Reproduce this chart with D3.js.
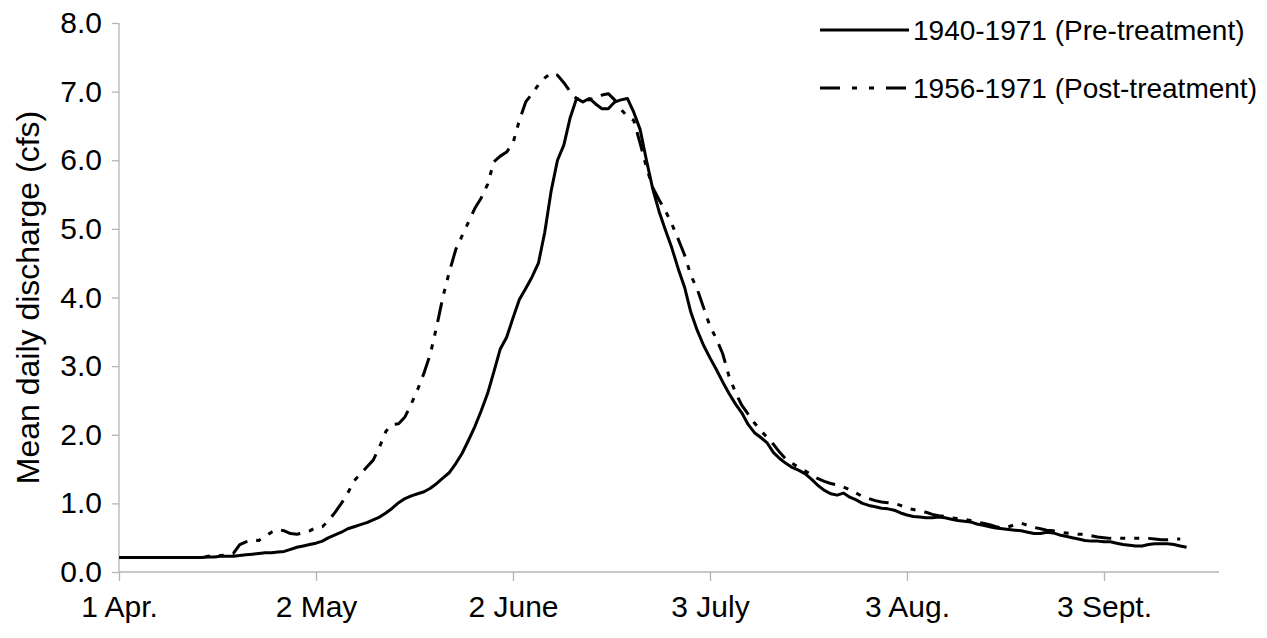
<!DOCTYPE html>
<html><head><meta charset="utf-8">
<script src="https://cdn.jsdelivr.net/npm/d3@7"></script>
<style>
html,body{margin:0;padding:0;background:#fff;}
svg{display:block;font-family:"Liberation Sans",Arial,sans-serif;}
</style></head>
<body>
<svg id="chart" width="1267" height="638"></svg>
<script>
// Day offsets from 1 April
const tickDays = [0, 31, 62, 93, 124, 155];
const tickLabels = ["1 Apr.", "2 May", "2 June", "3 July", "3 Aug.", "3 Sept."];
const yTicks = [0, 1, 2, 3, 4, 5, 6, 7, 8];
const seriesNames = ["1940-1971 (Pre-treatment)", "1956-1971 (Post-treatment)"];

// Mean daily discharge (cfs), one value per day starting 1 April
const preTreatment = [
0.21,0.21,0.21,0.21,0.21,0.21,0.21,0.21,0.21,0.21,
0.21,0.21,0.21,0.21,0.22,0.22,0.23,0.23,0.23,0.24,
0.25,0.26,0.27,0.28,0.28,0.29,0.30,0.33,0.36,0.38,
0.40,0.42,0.45,0.50,0.54,0.58,0.63,0.66,0.69,0.72,
0.76,0.80,0.86,0.93,1.01,1.07,1.11,1.14,1.17,1.22,
1.29,1.37,1.45,1.58,1.73,1.92,2.12,2.35,2.60,2.92,
3.25,3.42,3.70,3.97,4.13,4.30,4.50,4.95,5.55,6.00,
6.22,6.62,6.90,6.85,6.90,6.82,6.75,6.75,6.85,6.88,
6.90,6.70,6.45,6.00,5.58,5.25,4.98,4.72,4.42,4.15,
3.78,3.52,3.30,3.12,2.95,2.77,2.60,2.45,2.32,2.15,
2.03,1.96,1.88,1.74,1.65,1.58,1.52,1.48,1.43,1.35,
1.26,1.19,1.14,1.12,1.15,1.09,1.05,1.00,0.97,0.95,
0.93,0.92,0.90,0.86,0.83,0.81,0.80,0.79,0.79,0.80,
0.79,0.77,0.75,0.74,0.73,0.70,0.68,0.66,0.64,0.63,
0.62,0.61,0.60,0.58,0.56,0.56,0.58,0.57,0.54,0.52,
0.50,0.48,0.46,0.45,0.45,0.44,0.44,0.42,0.40,0.39,
0.38,0.38,0.40,0.41,0.41,0.41,0.40,0.38,0.36
];
const postTreatment = [
0.21,0.21,0.21,0.21,0.21,0.21,0.21,0.21,0.21,0.21,
0.21,0.21,0.21,0.21,0.23,0.24,0.24,0.25,0.27,0.40,
0.44,0.47,0.46,0.52,0.58,0.62,0.60,0.56,0.55,0.57,
0.60,0.65,0.66,0.75,0.87,1.00,1.15,1.33,1.43,1.53,
1.63,1.82,2.05,2.15,2.16,2.26,2.45,2.66,2.90,3.18,
3.58,4.02,4.38,4.70,4.90,5.10,5.30,5.45,5.65,5.98,
6.06,6.12,6.25,6.58,6.85,6.97,7.10,7.20,7.27,7.24,
7.13,7.00,6.90,6.87,6.88,6.91,6.95,6.97,6.88,6.74,
6.64,6.58,6.25,5.90,5.60,5.42,5.26,5.07,4.85,4.62,
4.32,4.12,3.85,3.58,3.40,3.18,2.85,2.62,2.43,2.30,
2.17,2.06,1.96,1.86,1.74,1.64,1.58,1.52,1.47,1.42,
1.36,1.32,1.29,1.27,1.24,1.20,1.15,1.10,1.07,1.04,
1.02,1.01,1.00,0.97,0.93,0.91,0.89,0.87,0.84,0.82,
0.81,0.79,0.78,0.77,0.75,0.73,0.71,0.69,0.66,0.64,
0.66,0.69,0.71,0.68,0.65,0.63,0.61,0.60,0.58,0.57,
0.56,0.55,0.55,0.53,0.51,0.50,0.49,0.49,0.49,0.49,
0.49,0.49,0.49,0.48,0.47,0.47,0.48,0.48
];

const svg = d3.select("#chart");
const axisColor = "#b4b4b4";
const fontFam = '"Liberation Sans",Arial,sans-serif';
const x = d3.scaleLinear().domain([0, 173.1]).range([119, 1219]);
const y = d3.scaleLinear().domain([0, 8]).range([572, 23]);

// X axis
const xAxis = svg.append("g").attr("transform", `translate(0,${y(0)})`)
  .call(d3.axisBottom(x).tickValues(tickDays).tickSize(9).tickPadding(15)
    .tickFormat((d, i) => tickLabels[i]));
xAxis.select(".domain").attr("stroke", axisColor).attr("stroke-width", 1.3)
  .attr("d", `M${x(0)},0H${x.range()[1]}`);
xAxis.selectAll(".tick line").attr("stroke", axisColor).attr("stroke-width", 1.3);
xAxis.selectAll(".tick text").attr("fill", "#000").style("font-size", "30px")
  .style("font-family", fontFam);

// Y axis
const yAxis = svg.append("g").attr("transform", `translate(${x(0)},0)`)
  .call(d3.axisLeft(y).tickValues(yTicks).tickSize(7).tickPadding(10).tickFormat(d3.format(".1f")));
yAxis.select(".domain").attr("stroke", axisColor).attr("stroke-width", 1.3)
  .attr("d", `M0,${y(8)}V${y(0)}`);
yAxis.selectAll(".tick line").attr("stroke", axisColor).attr("stroke-width", 1.3);
yAxis.selectAll(".tick text").attr("fill", "#000").style("font-size", "30px")
  .style("font-family", fontFam);

// Y title
svg.append("text").attr("transform", `translate(39,${(y(0) + y(8)) / 2}) rotate(-90)`)
  .attr("text-anchor", "middle").style("font-size", "32px").attr("fill", "#000")
  .text("Mean daily discharge (cfs)");

const line = d3.line().x((d, i) => x(i)).y(d => y(d)).curve(d3.curveLinear);
const dashPattern = "20,9,5,9,5,9";

svg.append("path").datum(postTreatment).attr("d", line)
  .attr("fill", "none").attr("stroke", "#000").attr("stroke-width", 3)
  .attr("stroke-dasharray", dashPattern).attr("stroke-linejoin", "round");
svg.append("path").datum(preTreatment).attr("d", line)
  .attr("fill", "none").attr("stroke", "#000").attr("stroke-width", 3)
  .attr("stroke-linejoin", "round");

// Legend
const legendY = [30, 88];
const leg = svg.append("g");
leg.append("line").attr("x1", 820).attr("x2", 909).attr("y1", legendY[0]).attr("y2", legendY[0])
  .attr("stroke", "#000").attr("stroke-width", 3);
leg.append("line").attr("x1", 820).attr("x2", 909).attr("y1", legendY[1]).attr("y2", legendY[1])
  .attr("stroke", "#000").attr("stroke-width", 3).attr("stroke-dasharray", "20,12,5,12,5,12");
seriesNames.forEach((n, i) => {
  leg.append("text").attr("x", 913).attr("y", legendY[i]).attr("dy", "0.35em")
    .style("font-size", "28px").attr("fill", "#000").text(n);
});
</script>
</body></html>
